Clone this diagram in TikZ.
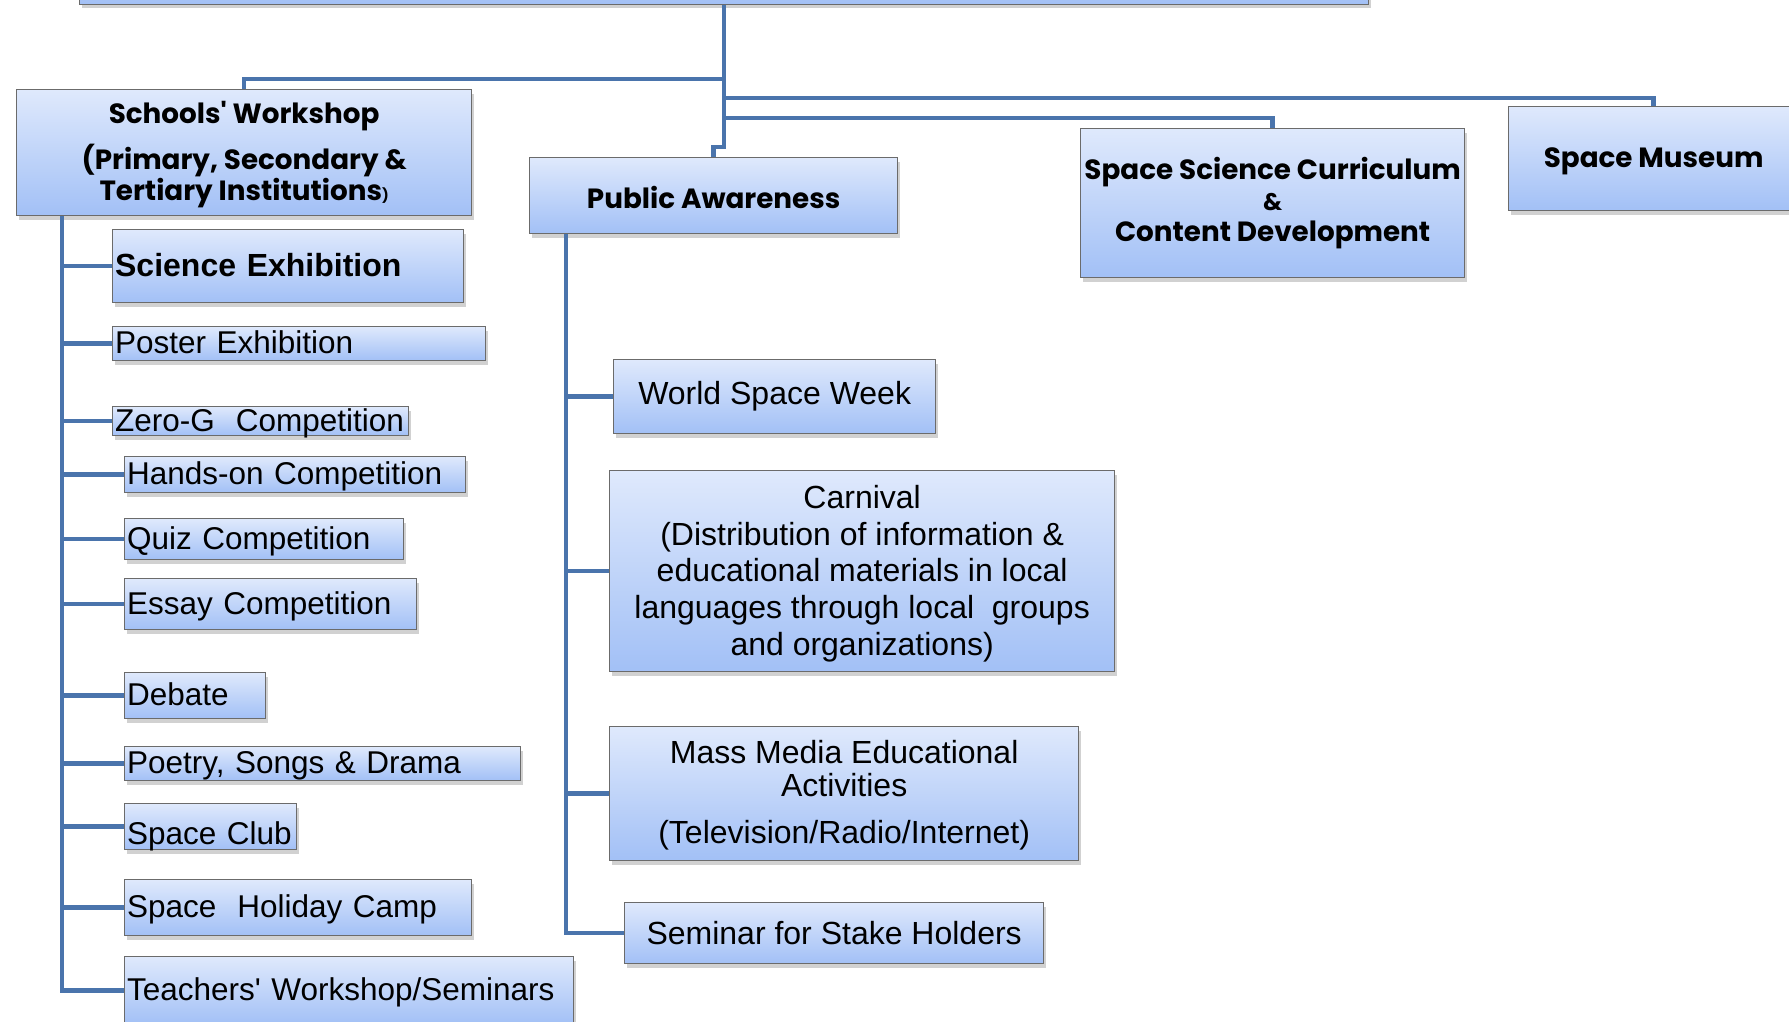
\documentclass[tikz,border=0pt]{standalone}
\usepackage{fontspec}
\setmainfont{Liberation Sans}
\newfontfamily\headfont{Poppins}
\usetikzlibrary{shadows}
\definecolor{conncol}{HTML}{4A74AC}
\definecolor{boxtop}{HTML}{DFE9FC}
\definecolor{boxbot}{HTML}{A2C0F6}
\definecolor{boxedge}{HTML}{6B6B6B}
\tikzset{
  box/.style={rectangle, draw=boxedge, line width=1.3pt, top color=boxtop, bottom color=boxbot,
    inner sep=0pt, anchor=north west,
    drop shadow={shadow xshift=2pt, shadow yshift=-4pt, fill=black!60, opacity=0.3}},
  lbox/.style={box, align=left, inner xsep=2.5pt, text height=20pt, text depth=0pt,
    font=\fontsize{31.5}{36}\selectfont},
  lboxb/.style={lbox, font=\fontsize{32}{36}\selectfont\bfseries},
  mbox/.style={box, align=center, font=\fontsize{32}{36.6}\selectfont},
  hbox/.style={box, align=center, font=\headfont\bfseries\fontsize{27.8}{31}\selectfont},
  conn/.style={draw=conncol, line width=4.5pt},
}
\begin{document}
\begin{tikzpicture}[x=1pt,y=-1pt]
\useasboundingbox (0,0) rectangle (1789,1021);
% top (cut off) box
\node[box, anchor=south west, minimum width=1289pt, minimum height=80pt] (top) at (79,5) {};
% level 1
\node[hbox, minimum width=455pt, minimum height=126pt] (schools) at (16,89)
  {\rule{0pt}{26pt}Schools' Workshop\\[12pt](Primary, Secondary \&\\Tertiary Institutions{\fontsize{14}{14}\selectfont)}};
\node[hbox, minimum width=368pt, minimum height=76pt, text height=26pt, text depth=0pt] (pa) at (529,157) {Public Awareness};
\node[hbox, minimum width=384pt, minimum height=149pt] (curr) at (1080,128)
  {Space Science Curriculum\\{\fontsize{24}{24}\selectfont\&}\\Content Development};
\node[hbox, minimum width=290pt, minimum height=104pt, text height=24pt, text depth=6pt] (museum) at (1508,106) {Space Museum};
% left column
\node[lboxb, text width=346pt, minimum height=73pt] (sciex) at (112,229) {\mbox{Science Exhibition}};
\node[lbox, text width=368pt, minimum height=34pt] (poster) at (112,326) {\mbox{Poster Exhibition}};
\node[lbox, text width=291pt, minimum height=29pt] (zerog) at (112,406) {\mbox{Zero-G\ \ Competition}};
\node[lbox, text width=336pt, minimum height=36pt] (hands) at (124,456) {\mbox{Hands-on Competition}};
\node[lbox, text width=274pt, minimum height=41pt] (quiz) at (124,518) {\mbox{Quiz Competition}};
\node[lbox, text width=287pt, minimum height=51pt] (essay) at (124,578) {\mbox{Essay Competition}};
\node[lbox, text width=136pt, minimum height=46pt] (debate) at (124,672) {\mbox{Debate}};
\node[lbox, text width=391pt, minimum height=34pt] (poetry) at (124,746) {\mbox{Poetry, Songs \& Drama}};
\node[lbox, text width=167pt, minimum height=46pt, text height=36pt] (club) at (124,803) {\mbox{Space Club}};
\node[lbox, text width=342pt, minimum height=56pt] (camp) at (124,879) {\mbox{Space\ \ Holiday Camp}};
\node[lbox, text width=444pt, minimum height=68pt] (teach) at (124,956) {\mbox{Teachers\textquotesingle\ Workshop/Seminars}};
% middle column
\node[mbox, minimum width=322pt, minimum height=74pt] (wsw) at (613,359) {World Space Week};
\node[mbox, minimum width=505pt, minimum height=201pt] (carn) at (609,470)
  {\rule{0pt}{28pt}Carnival\\(Distribution of information \&\\educational materials in local\\languages through local\ \ groups\\and organizations)};
\node[mbox, minimum width=469pt, minimum height=134pt, font=\fontsize{32}{33}\selectfont] (mass) at (609,726)
  {\rule{0pt}{27pt}Mass Media Educational\\Activities\\[14pt](Television/Radio/Internet)};
\node[mbox, minimum width=419pt, minimum height=61pt] (sem) at (624,902) {Seminar for Stake Holders};
% connectors from top
\draw[conn] (top.south) -- ++(0,142) -| (pa.north);
\draw[conn] (top.south) ++(0,74) -| (schools.north);
\draw[conn] (top.south) ++(0,93) -| (museum.north);
\draw[conn] (top.south) ++(0,113) -| (curr.north);
% left tree
\foreach \n in {sciex,poster,zerog,hands,quiz,essay,debate,poetry,club,camp,teach}
  \draw[conn] (schools.south west) ++(46,0) |- (\n.west);
% middle tree
\foreach \n in {wsw,carn,mass,sem}
  \draw[conn] (pa.south west) ++(37,0) |- (\n.west);
\end{tikzpicture}
\end{document}
